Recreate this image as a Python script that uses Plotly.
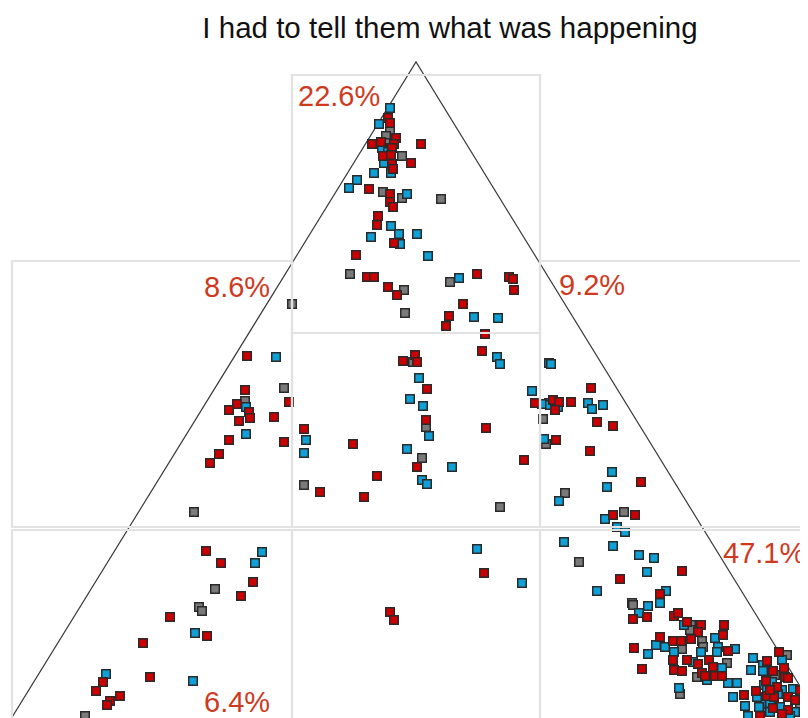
import plotly.graph_objects as go

# ---- data (positions, in chart units: x right, y down) ----
red_x = [388,390,396,372,381,394,421,392,383,391,392,411,393,369,390,390,393,378,377,394,356,367,374,388,397,477,509,513,514,463,449,446,485,
         415,403,417,482,427,426,417,486,524,304,320,353,377,364,535,289,284,484,390,394,
         247,245,237,229,249,250,239,274,229,219,210,
         206,221,253,241,170,207,143,150,103,96,120,110,107,
         591,553,559,555,571,597,613,556,590,641,613,635,
         682,620,660,633,647,674,678,687,701,698,724,723,660,673,681,691,634,728,673,687,698,709,713,642,674,682,702,705,715,722,744,
         779,767,784,773,785,788,756,777,767,788,774,788,773,782,760,766,795,800,770]
red_y = [118,123,138,144,142,144,144,148,156,155,164,163,169,189,194,202,207,216,225,243,255,277,277,287,295,274,277,279,290,304,316,326,334,
         355,361,362,351,389,420,467,428,460,429,492,444,476,497,403,402,442,573,612,620,
         356,390,404,410,412,418,421,417,440,454,463,
         551,563,582,596,617,636,643,677,682,691,696,701,705,
         388,400,402,410,402,422,426,440,451,482,515,515,
         571,579,594,619,617,616,613,622,625,632,625,635,637,641,641,639,648,651,660,660,664,660,667,669,670,671,673,676,676,676,695,
         652,661,668,671,677,678,691,687,696,697,697,710,708,714,716,681,700,690,690]

blue_x = [390,379,382,388,384,391,374,357,349,407,391,371,399,400,417,428,459,474,498,
          497,500,419,410,423,429,407,422,427,452,306,304,532,549,544,549,477,522,
          276,246,246,262,255,195,193,106,
          551,542,550,558,588,592,603,612,607,559,605,617,625,564,613,
          639,654,647,597,666,660,648,639,684,715,656,665,674,701,718,717,735,648,693,722,707,728,737,679,733,
          753,763,782,751,763,772,764,767,782,793,778,761,770,780,759,770,795,748,757,790,745]
blue_y = [108,124,148,152,163,173,173,180,188,194,226,237,234,244,234,256,278,317,318,
          357,364,378,399,406,436,449,480,484,467,440,453,391,403,439,363,549,583,
          357,407,434,552,563,633,681,674,
          364,404,405,407,403,409,405,472,487,501,519,527,532,542,546,
          555,558,572,591,591,603,606,613,625,638,645,647,652,652,647,652,649,654,662,668,680,683,683,688,697,
          658,665,660,670,671,682,685,690,690,689,694,704,703,707,707,712,712,716,697,716,706]

grey_x = [390,386,387,402,383,402,441,350,404,405,450,292,
          413,426,422,500,304,543,546,284,
          245,194,215,199,202,85,
          565,624,579,632,633,691,690,702,682,703,727,697,680,787,767,767,800,775]
grey_y = [130,136,143,156,192,198,199,274,290,313,282,304,
          362,427,458,507,485,419,444,388,
          401,512,589,607,611,716,
          493,512,562,603,605,625,630,641,649,647,663,677,694,655,688,707,705,675]

region_labels = ["22.6%", "8.6%", "9.2%", "47.1%", "6.4%"]
label_x = [339, 237, 592, 766, 237]
label_y = [96, 287, 285, 553, 702]

title_text = "I had to tell them what was happening"

# ---- figure ----
fig = go.Figure()

# triangle outline (extends past the visible frame)
tri_x = [-39, 416, 870]
tri_y = [800, 62, 800]
fig.add_trace(go.Scatter(x=tri_x, y=tri_y, mode="lines",
                         line=dict(color="#3a3a3a", width=1.2),
                         hoverinfo="skip", showlegend=False))

def add_points(xs, ys, color):
    fig.add_trace(go.Scatter(
        x=xs, y=ys, mode="markers", showlegend=False,
        marker=dict(symbol="square", size=8.5, color=color,
                    line=dict(color="#2a2a2a", width=1.5)),
        cliponaxis=True))

add_points(grey_x, grey_y, "#7a7a7a")
add_points(blue_x, blue_y, "#0fa0d8")
add_points(red_x, red_y, "#cc0000")

# grid boxes
grid_col = "#e2e2e2"
boxes = [
    (292, 75, 540, 333),
    (12, 261, 292, 527),
    (292, 333, 540, 527),
    (540, 261, 840, 527),
    (12, 530, 292, 760),
    (292, 530, 540, 760),
    (540, 530, 840, 760),
]
for x0, y0, x1, y1 in boxes:
    fig.add_shape(type="rect", xref="x", yref="y", x0=x0, y0=y0, x1=x1, y1=y1,
                  line=dict(color=grid_col, width=2.2), layer="above")

label_font = dict(family="Liberation Sans, Arial, sans-serif", size=29, color="#cf3a1e")
for t, lx, ly in zip(region_labels, label_x, label_y):
    if t == "47.1%":
        fig.add_annotation(x=807, y=ly, xref="x", yref="y", text=t, showarrow=False,
                           xanchor="right", yanchor="middle", font=label_font)
    else:
        fig.add_annotation(x=lx, y=ly, xref="x", yref="y", text=t, showarrow=False,
                           xanchor="center", yanchor="middle", font=label_font)

# the page body has an 8px margin, so the figure starts at window pixel (8, 8)
fig.update_layout(
    width=800, height=710,
    margin=dict(l=0, r=0, t=0, b=0),
    paper_bgcolor="white", plot_bgcolor="white",
    title=dict(text=title_text, x=442/800, y=1-20/710,
               xanchor="center", yanchor="middle",
               font=dict(family="Liberation Sans, Arial, sans-serif",
                         size=29.5, color="#111111")),
    xaxis=dict(range=[8, 808], visible=False, fixedrange=True),
    yaxis=dict(range=[718, 8], visible=False, fixedrange=True),
    showlegend=False,
)

fig.write_html("out.html")
